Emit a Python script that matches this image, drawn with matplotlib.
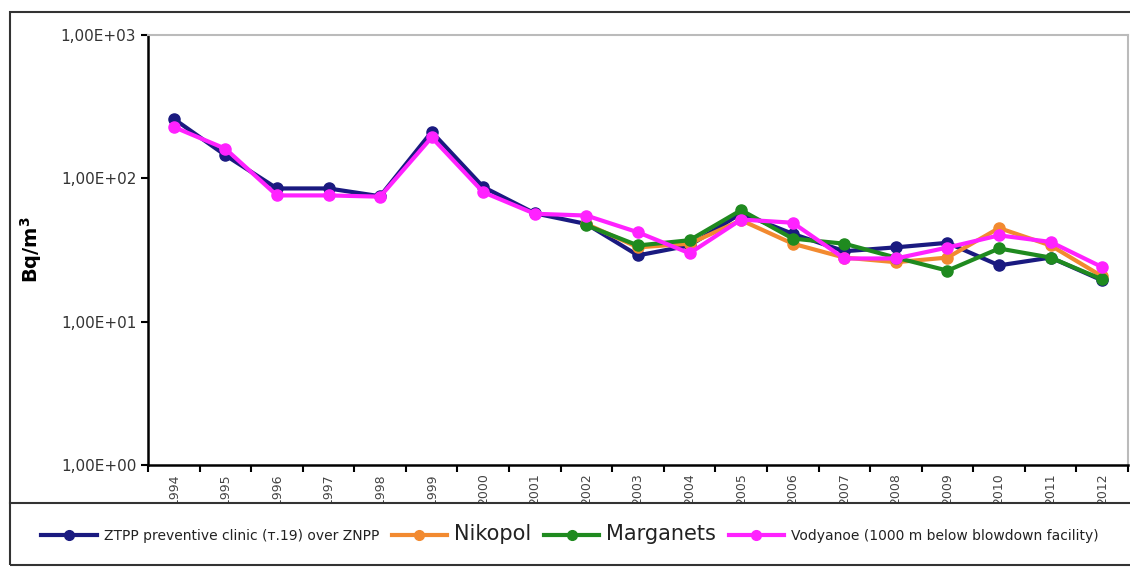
import matplotlib
matplotlib.use("Agg")
import matplotlib.pyplot as plt
from matplotlib.lines import Line2D
from matplotlib.patches import Rectangle
import numpy as np

# Datos
years = [str(y) for y in range(1994, 2013)]
ztpp = [260, 145, 85, 85, 75, 211, 87, 57, 48, 29, 34, 57, 41, 31, 33, 35.5, 24.7, 28, 19.4]
nikopol = [None] * 8 + [48, 33, 35, 51, 35, 28, 26, 28, 45, 34, 20.7]
marganets = [None] * 8 + [47, 34, 37, 60, 38, 35, 28, 22.7, 32.4, 28, 19.7]
vodyanoe = [228, 161, 76, 76, 74.5, 193, 80, 56.6, 55, 42, 30, 51.6, 49, 27.6, 27.6, 32.9, 40, 36, 24]

labels = ["ZTPP preventive clinic (т.19) over ZNPP", "Nikopol", "Marganets",
          "Vodyanoe (1000 m below blowdown facility)"]
colors = ["#1a1a80", "#f28a30", "#1f8a1f", "#ff22ff"]
series = [ztpp, nikopol, marganets, vodyanoe]

W, H = 1130, 569
fig = plt.figure(figsize=(W / 100, H / 100), dpi=100)

# marco exterior
fig.patches.append(Rectangle((10 / W, 4 / H), 1.2, 1 - 16 / H, transform=fig.transFigure,
                             fill=False, edgecolor="#333333", lw=1.5))

ax = fig.add_axes([148 / W, 1 - 465 / H, (1128 - 148) / W, (465 - 35) / H])
x = np.arange(len(years))
for s, c, lab in zip(series, colors, labels):
    arr = np.array([np.nan if v is None else v for v in s], dtype=float)
    ax.plot(x, arr, color=c, lw=3, marker="o", ms=8, label=lab)

ax.set_yscale("log")
ax.set_ylim(1, 1000)
ax.set_xlim(-0.5, len(years) - 0.5)
ax.set_yticks([1, 10, 100, 1000])
ax.set_yticklabels(["1,00E+00", "1,00E+01", "1,00E+02", "1,00E+03"], fontsize=11, color="#333333")
ax.yaxis.set_minor_locator(matplotlib.ticker.NullLocator())
ax.tick_params(axis="y", length=5, width=1.5)
ax.set_xticks(x)
ax.set_xticklabels(years, rotation=90, fontsize=9, color="#444444")
ax.set_xticks(np.arange(-0.5, len(years)), minor=True)
ax.tick_params(axis="x", which="major", length=0, pad=6)
ax.tick_params(axis="x", which="minor", length=5, width=1.5)
ax.set_ylabel("Bq/m$^\\mathbf{3}$", fontsize=14, fontweight="bold", labelpad=12)
for sp in ["left", "bottom"]:
    ax.spines[sp].set_linewidth(1.8)
for sp in ["top", "right"]:
    ax.spines[sp].set_color("#bbbbbb")
    ax.spines[sp].set_linewidth(1.5)

# zona de leyenda (tapa el final de las etiquetas del eje x)
lax = fig.add_axes([10 / W, 4 / H, 1 - 10 / W, (H - 503 - 4) / H])
lax.set_xticks([])
lax.set_yticks([])
for sp in ["left", "right", "bottom"]:
    lax.spines[sp].set_visible(False)
lax.spines["top"].set_linewidth(1.5)
lax.spines["top"].set_color("#333333")
handles = [Line2D([], [], color=c, lw=3, marker="o", ms=7) for c in colors]
leg = lax.legend(handles, labels, loc="center", ncol=4, frameon=False, handlelength=4.0,
                 handletextpad=0.5, columnspacing=0.9, bbox_to_anchor=(0.5, 0.5), fontsize=10)
for t, fs in zip(leg.get_texts(), [10, 15, 15, 10]):
    t.set_fontsize(fs)
    t.set_color("#222222")

fig.savefig("out.png", dpi=100)
